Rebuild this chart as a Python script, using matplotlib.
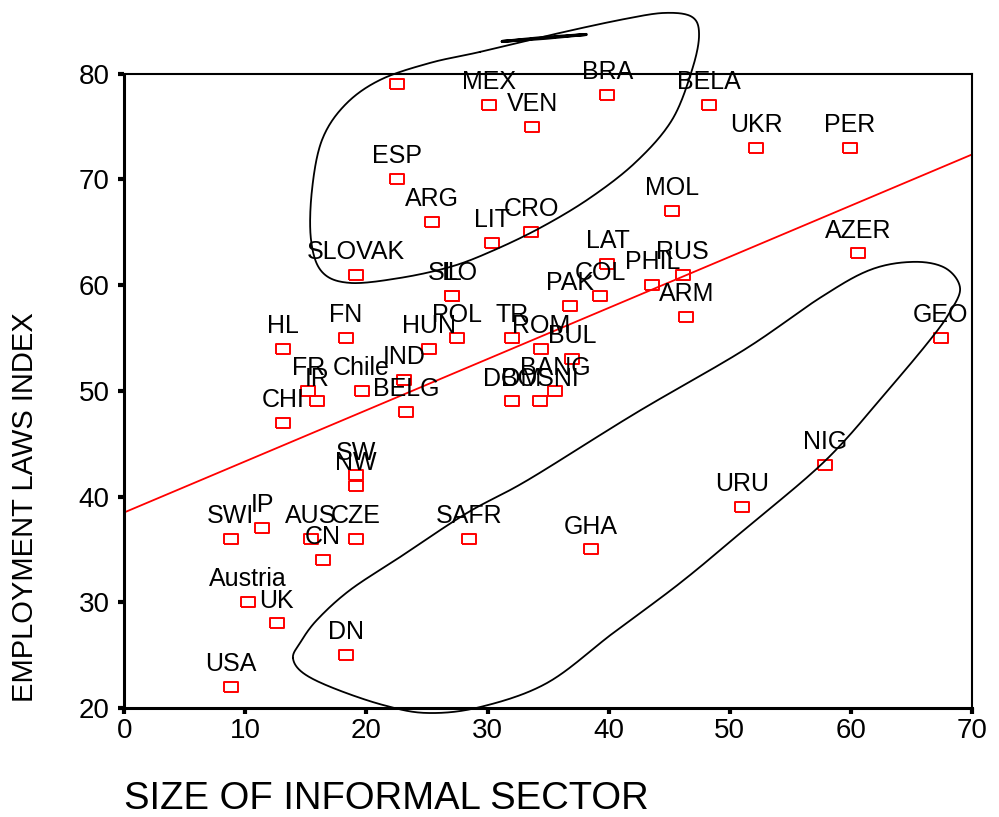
import numpy as np
import matplotlib
matplotlib.use("Agg")
import matplotlib.pyplot as plt

# ---------------- data ----------------
countries = ["USA", "Austria", "UK", "DN", "SWI", "IP", "AUS", "CZE", "CN", "SAFR",
             "GHA", "URU", "NIG", "GEO", "SW", "NW", "CHI", "FR", "IR", "Chile",
             "HL", "FN", "IND", "BELG", "HUN", "POL", "SLO", "IL", "TR", "ROM",
             "BUL", "BANG", "DOM", "BOSNI", "PAK", "COL", "PHIL", "RUS", "ARM", "LAT",
             "AZER", "MOL", "CRO", "LIT", "ARG", "SLOVAK", "ESP", "", "MEX", "VEN",
             "BRA", "BELA", "UKR", "PER"]
informal_size = [8.8, 10.2, 12.6, 18.3, 8.8, 11.4, 15.4, 19.1, 16.4, 28.5,
                 38.5, 51.0, 57.9, 67.4, 19.1, 19.1, 13.1, 15.2, 15.9, 19.6,
                 13.1, 18.3, 23.1, 23.3, 25.2, 27.5, 27.1, 27.1, 32.0, 34.4,
                 37.0, 35.6, 32.0, 34.3, 36.8, 39.3, 43.6, 46.1, 46.4, 39.9,
                 60.6, 45.2, 33.6, 30.4, 25.4, 19.1, 22.5, 22.5, 30.1, 33.7,
                 39.9, 48.3, 52.2, 59.9]
employment_index = [22, 30, 28, 25, 36, 37, 36, 36, 34, 36,
                    35, 39, 43, 55, 42, 41, 47, 50, 49, 50,
                    54, 55, 51, 48, 54, 55, 59, 59, 55, 54,
                    53, 50, 49, 49, 58, 59, 60, 61, 57, 62,
                    63, 67, 65, 64, 66, 61, 70, 79, 77, 75,
                    78, 77, 73, 73]

fit_intercept = 38.5
fit_slope = 0.4837

x_ticks = [0, 10, 20, 30, 40, 50, 60, 70]
y_ticks = [20, 30, 40, 50, 60, 70, 80]

# hand-drawn annotation loops (data units)
upper_loop = [(29.37, 82.06), (35.98, 83.86), (41.35, 85.18), (44.65, 85.75),
              (46.88, 85.37), (47.46, 83.67), (46.88, 80.36), (45.23, 75.63),
              (42.26, 71.66), (38.46, 68.25), (34.33, 65.41), (30.20, 63.14),
              (26.90, 61.72), (22.77, 60.68), (18.64, 60.21), (16.33, 61.25),
              (15.42, 64.28), (15.50, 69.01), (16.33, 73.74), (18.23, 77.05),
              (21.12, 79.41), (25.25, 81.02)]
upper_stroke = [(31.21, 83.05), (34.8, 83.45), (38.15, 83.71), (34.8, 83.35), (31.21, 83.05)]
lower_loop = [(13.93, 24.73), (14.51, 26.15), (15.91, 28.33), (18.64, 31.16),
              (22.77, 34.28), (28.30, 38.45), (33.33, 41.57), (42.25, 47.91),
              (51.17, 53.87), (57.45, 58.80), (61.58, 61.44), (65.13, 62.20),
              (67.77, 61.63), (69.01, 59.74), (68.18, 57.46), (66.52, 54.80),
              (63.07, 50.08), (57.94, 43.46), (51.17, 36.84), (45.89, 31.82),
              (40.36, 27.09), (34.91, 22.37), (29.38, 20.09),
              (25.01, 19.53), (21.38, 20.28), (17.25, 21.89), (14.77, 23.31)]


def closed_spline(pts, n=24):
    p = np.asarray(pts, float)
    m = len(p)
    out = []
    for i in range(m):
        p0, p1, p2, p3 = p[(i - 1) % m], p[i], p[(i + 1) % m], p[(i + 2) % m]
        t = np.linspace(0, 1, n, endpoint=False)[:, None]
        seg = 0.5 * ((2 * p1) + (-p0 + p2) * t + (2 * p0 - 5 * p1 + 4 * p2 - p3) * t ** 2
                     + (-p0 + 3 * p1 - 3 * p2 + p3) * t ** 3)
        out.append(seg)
    out.append(p[:1])
    return np.vstack(out)


plt.rcParams['font.family'] = ['Liberation Sans', 'DejaVu Sans']

fig = plt.figure(figsize=(9.99, 8.17), dpi=100)
ax = fig.add_axes([0.1244, 0.1334, 0.8486, 0.7764])

rect_marker = [(-1.35, -1), (1.35, -1), (1.35, 1), (-1.35, 1), (-1.35, -1)]
ax.plot(informal_size, employment_index, linestyle='none', marker=rect_marker,
        markersize=9.5, markerfacecolor='none', markeredgecolor='#ff0000',
        markeredgewidth=1.4, zorder=3, clip_on=False)

for name, xv, yv in zip(countries, informal_size, employment_index):
    if name:
        ax.annotate(name, (xv, yv), xytext=(0, 16.5), textcoords='offset points',
                    ha='center', va='center', fontsize=18, color='black',
                    annotation_clip=False, zorder=4)

xs = np.array([0, 70])
ax.plot(xs, fit_intercept + fit_slope * xs, color='#ff0000', lw=1.3, zorder=2)

for loop in (upper_loop, lower_loop):
    c = closed_spline(loop)
    ax.plot(c[:, 0], c[:, 1], color='black', lw=1.3, clip_on=False, zorder=5)
s = np.asarray(upper_stroke)
ax.plot(s[:, 0], s[:, 1], color='black', lw=2.2, clip_on=False, zorder=5,
        solid_capstyle='round', solid_joinstyle='round')

ax.set_xlim(0, 70)
ax.set_ylim(20, 80)
ax.set_xticks(x_ticks)
ax.set_yticks(y_ticks)
ax.tick_params(direction='out', length=4.5, width=3, labelsize=20, colors='black')
ax.tick_params(axis='x', pad=3)
ax.tick_params(axis='y', pad=6)
for side in ('left', 'bottom'):
    ax.spines[side].set_linewidth(2.2)
for side in ('top', 'right'):
    ax.spines[side].set_linewidth(1.5)

fig.text(0.124, 0.022, "SIZE OF INFORMAL SECTOR", ha='left', va='center', fontsize=27.5)
fig.text(0.025, 0.379, "EMPLOYMENT LAWS INDEX", ha='center', va='center',
         rotation=90, fontsize=21)

fig.savefig("out.png", dpi=100)
